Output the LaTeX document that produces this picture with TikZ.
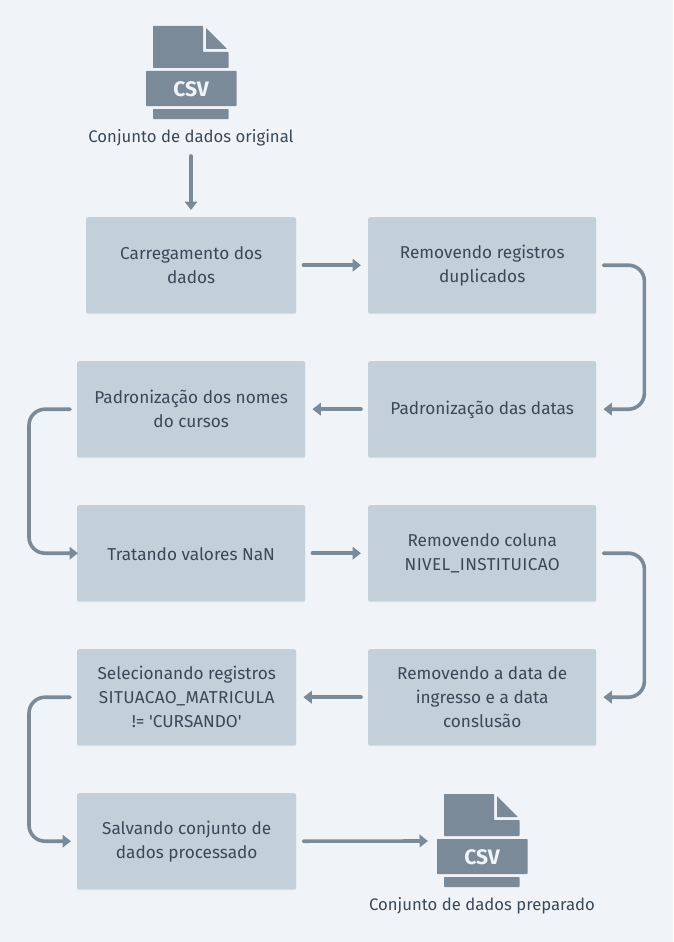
\documentclass[tikz,border=0pt]{standalone}
\usepackage{fontspec}
\setmainfont{Fira Sans}
\newfontfamily\plainquote{Fira Sans}
\usetikzlibrary{arrows.meta,shadows}
\definecolor{bgc}{HTML}{F0F4F8}
\definecolor{boxc}{HTML}{C3D0DA}
\definecolor{linec}{HTML}{7A8A99}
\definecolor{textc}{HTML}{3A4857}
\newcommand{\upsp}[1]{{\addfontfeatures{LetterSpace=2}#1}}
\newcommand{\sq}{{\plainquote\char39 }}
\tikzset{
  stepbox/.style={fill=boxc,rounded corners=2pt,anchor=north west,align=center,text=textc,font=\fontsize{17.2}{24}\selectfont,inner sep=0pt,
    execute at begin node={\rule{0pt}{15pt}},
    drop shadow={shadow xshift=0pt,shadow yshift=-1pt,opacity=.08,fill=black}},
  flow/.style={draw=linec,line width=3.6pt,line cap=round,-{Triangle[length=8.5pt,width=12.5pt]},rounded corners=16pt},
  captext/.style={text=textc,font=\fontsize{16.7}{20}\selectfont,inner sep=0pt},
  csvicon/.pic={
    \fill[linec,rounded corners=.7pt] (153,26) -- (203,26) -- (203,49.5) -- (203,52) -- (228.5,52) -- (228.5,68) -- (153,68) -- cycle;
    \fill[linec,rounded corners=.5pt] (206,28) -- (227,49) -- (206,49) -- cycle;
    \fill[linec,rounded corners=.7pt] (146,71) rectangle (236.5,106);
    \fill[linec,rounded corners=.7pt] (153,109) rectangle (228.5,119);
    \node[text=bgc,font=\fontsize{21}{21}\selectfont\bfseries,inner sep=0pt] at (191,89) {CSV};
  }
}
\begin{document}
\begin{tikzpicture}[x=1pt,y=-1pt]
\useasboundingbox (0,0) rectangle (673,942);
\fill[bgc] (0,0) rectangle (673,942);
\pic at (0,0) {csvicon};
\pic at (291,768) {csvicon};
\node[captext] (src) at (191,137.5) {Conjunto de dados original};
\node[captext] (dst) at (482,905.5) {Conjunto de dados preparado};
\node[stepbox,minimum width=210pt,minimum height=96pt] (a) at (86,217) {Carregamento dos\\dados};
\node[stepbox,minimum width=228pt,minimum height=96pt] (b) at (368,217) {Removendo registros\\duplicados};
\node[stepbox,minimum width=228pt,minimum height=96pt] (c) at (368,361) {Padronização das datas};
\node[stepbox,minimum width=228pt,minimum height=96pt] (d) at (77,361) {Padronização dos nomes\\do cursos};
\node[stepbox,minimum width=228pt,minimum height=96pt] (e) at (77,505) {Tratando valores NaN};
\node[stepbox,minimum width=228pt,minimum height=96pt] (f) at (368,505) {Removendo coluna\\\upsp{NIVEL\_INSTITUICAO}};
\node[stepbox,minimum width=228pt,minimum height=96pt] (g) at (368,649) {Removendo a data de\\ingresso e a data\\conslusão};
\node[stepbox,minimum width=219pt,minimum height=96pt] (h) at (77,649) {Selecionando registros\\\upsp{SITUACAO\_MATRICULA}\\!= \sq CURSANDO\sq};
\node[stepbox,minimum width=219pt,minimum height=96pt] (i) at (77,793) {Salvando conjunto de\\dados processado};
\coordinate (dsticon) at (428,841);
\draw[flow] (src.south) ++(0,10) -- ([yshift=7pt]a.north -| src.south);
\draw[flow] ([xshift=7pt]a.east) -- ([xshift=-7pt]b.west);
\draw[flow] ([xshift=7pt]b.east) -- ++(41,0) -- ([xshift=48pt]c.east) -- ([xshift=7pt]c.east);
\draw[flow] ([xshift=-7pt]c.west) -- ([xshift=7pt]d.east);
\draw[flow] ([xshift=-7pt]d.west) -- ++(-41,0) -- ([xshift=-48pt]e.west) -- ([xshift=1pt]e.west);
\draw[flow] ([xshift=7pt]e.east) -- ([xshift=-7pt]f.west);
\draw[flow] ([xshift=7pt]f.east) -- ++(41,0) -- ([xshift=48pt]g.east) -- ([xshift=7pt]g.east);
\draw[flow] ([xshift=-7pt]g.west) -- ([xshift=7pt]h.east);
\draw[flow] ([xshift=-7pt]h.west) -- ++(-41,0) -- ([xshift=-48pt]i.west) -- ([xshift=-6pt]i.west);
\draw[flow] ([xshift=7pt]i.east) -- (dsticon);
\end{tikzpicture}
\end{document}
